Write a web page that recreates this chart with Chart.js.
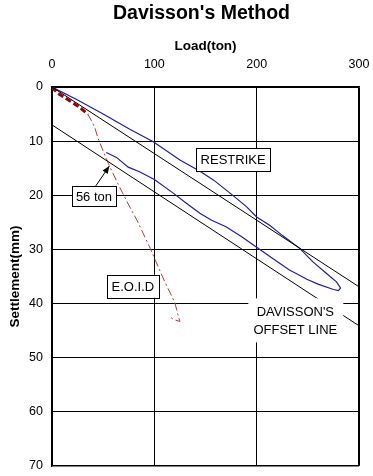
<!DOCTYPE html>
<html>
<head>
<meta charset="utf-8">
<script src="https://cdn.jsdelivr.net/npm/chart.js@4"></script>
<style>
  html, body { margin: 0; padding: 0; background: #fff; overflow: hidden; }
  #wrap { width: 373px; height: 476px; }
  canvas { display: block; }
</style>
</head>
<body>
<div id="wrap"><canvas id="chart"></canvas></div>
<script>
// load (ton) / settlement (mm)
const elasticLoad = [0, 300];
const elasticSettle = [0, 36.9];
const offsetLoad = [0, 300];
const offsetSettle = [7, 44.1];

const restrikeLoad = [0, 25, 50, 76, 99, 125, 145, 158, 174, 190, 200, 213, 225, 242, 255, 268, 278, 282,
  280, 275, 260, 249, 240, 232, 215, 200, 185, 170, 156, 144.5, 130, 118.5, 100, 86, 74.5, 63, 53];
const restrikeSettle = [0, 2.4, 5, 7.8, 10.1, 13.5, 15.6, 17.2, 19.6, 22.1, 24, 25.6, 27.4, 29.8, 32.3, 34.4, 36, 37.1,
  37.6, 37.4, 36.4, 35.5, 34.6, 33.8, 31.6, 29.6, 27.6, 25.8, 24.6, 23.3, 21.3, 19.6, 17.1, 15.7, 14.8, 13, 12.1];

const eoidStartLoad = [0, 6, 16, 26, 35];
const eoidStartSettle = [0, 1.2, 2.4, 3.6, 5];
const eoidLoad = [35, 39, 42, 45, 50, 55, 65, 75, 83, 89, 96, 101, 110, 120, 123, 125, 118, 115];
const eoidSettle = [5, 6.4, 7.6, 9.5, 11.8, 14.1, 18.1, 21.8, 24.6, 27, 29.8, 32, 35.9, 39.8, 42, 43.3, 42.9, 42.1];

const xTickValues = [0, 100, 200, 300];
const yTickValues = [0, 10, 20, 30, 40, 50, 60, 70];

function pairs(xs, ys) {
  return xs.map((v, i) => ({x: v, y: ys[i]}));
}

const FONT = "Arial, 'Liberation Sans', sans-serif";

function box(ctx, text, cx, cy, w, h) {
  ctx.fillStyle = '#fff';
  ctx.fillRect(cx - w / 2, cy - h / 2, w, h);
  ctx.strokeStyle = '#000';
  ctx.lineWidth = 1;
  ctx.strokeRect(Math.round(cx - w / 2) + 0.5, Math.round(cy - h / 2) + 0.5, w, h);
  ctx.fillStyle = '#000';
  ctx.fillText(text, cx, cy + 1);
}

const notes = {
  id: 'notes',
  afterDatasetsDraw(chart) {
    const ctx = chart.ctx;
    const x = chart.scales.x, y = chart.scales.y;
    ctx.save();

    // chart title, a bit left of the page centre as in the original
    ctx.font = 'bold 19.5px ' + FONT;
    ctx.textAlign = 'center';
    ctx.textBaseline = 'middle';
    ctx.fillStyle = '#000';
    ctx.fillText("Davisson's Method", 201.5, 14);

    ctx.font = '13px ' + FONT;
    box(ctx, 'RESTRIKE', x.getPixelForValue(177), y.getPixelForValue(13.4), 74, 23);
    box(ctx, 'E.O.I.D', x.getPixelForValue(79), y.getPixelForValue(36.8), 52, 23);

    // arrow to the 56 ton point
    const tx = x.getPixelForValue(56), ty = y.getPixelForValue(14.6);
    const sx = x.getPixelForValue(42), sy = y.getPixelForValue(18.5);
    ctx.strokeStyle = '#000';
    ctx.lineWidth = 1;
    ctx.beginPath();
    ctx.moveTo(sx, sy);
    ctx.lineTo(tx, ty);
    ctx.stroke();
    const a = Math.atan2(ty - sy, tx - sx);
    ctx.fillStyle = '#000';
    ctx.beginPath();
    ctx.moveTo(tx, ty);
    ctx.lineTo(tx - 8 * Math.cos(a - 0.4), ty - 8 * Math.sin(a - 0.4));
    ctx.lineTo(tx - 8 * Math.cos(a + 0.4), ty - 8 * Math.sin(a + 0.4));
    ctx.closePath();
    ctx.fill();
    box(ctx, '56 ton', x.getPixelForValue(41), y.getPixelForValue(20.2), 44, 20);

    // offset line caption, white behind it
    const cx = x.getPixelForValue(237.8), cy = y.getPixelForValue(43.1);
    ctx.fillStyle = '#fff';
    ctx.fillRect(cx - 47, cy - 22, 95, 44);
    ctx.fillStyle = '#000';
    ctx.fillText("DAVISSON'S", cx, cy - 8);
    ctx.fillText('OFFSET LINE', cx, cy + 10);
    ctx.restore();
  }
};

new Chart(document.getElementById('chart'), {
  type: 'scatter',
  data: {
    datasets: [
      {
        data: pairs(elasticLoad, elasticSettle),
        showLine: true, borderColor: '#000', borderWidth: 1, pointRadius: 0
      },
      {
        data: pairs(offsetLoad, offsetSettle),
        showLine: true, borderColor: '#000', borderWidth: 1, pointRadius: 0
      },
      {
        data: pairs(restrikeLoad, restrikeSettle),
        showLine: true, borderColor: '#1f1f9c', borderWidth: 1.2, pointRadius: 0
      },
      {
        data: pairs(eoidStartLoad, eoidStartSettle),
        showLine: true, borderColor: '#9a0000', borderWidth: 3, borderDash: [6, 3], pointRadius: 0
      },
      {
        data: pairs(eoidLoad, eoidSettle),
        showLine: true, borderColor: '#b03a3a', borderWidth: 1, borderDash: [8, 3, 2, 3], pointRadius: 0
      }
    ]
  },
  options: {
    responsive: true,
    maintainAspectRatio: false,
    animation: false,
    layout: { padding: { top: 35.4, left: 0, right: 14, bottom: 10 } },
    plugins: {
      legend: { display: false },
      tooltip: { enabled: false },
      title: { display: false }
    },
    scales: {
      x: {
        type: 'linear',
        position: 'top',
        min: 0, max: 300,
        afterBuildTicks: s => { s.ticks = xTickValues.map(v => ({value: v})); },
        afterFit: s => { s.height = 51.6; s.paddingLeft = 0; s.paddingRight = 0; },
        title: {
          display: true, text: 'Load(ton)', color: '#000',
          font: { family: FONT, size: 13.5, weight: 'bold' },
          padding: { top: 2.5, bottom: 0 }
        },
        ticks: { color: '#000', font: { family: FONT, size: 12.5 }, padding: 15, maxRotation: 0 },
        grid: {
          color: '#000',
          lineWidth: c => (c.tick && c.tick.value === 300 ? 2 : 1),
          drawTicks: false
        },
        border: { color: '#000', width: 1.5 }
      },
      y: {
        type: 'linear',
        reverse: true,
        min: 0, max: 70,
        afterBuildTicks: s => { s.ticks = yTickValues.map(v => ({value: v})); },
        afterFit: s => { s.width = 52; s.paddingTop = 0; s.paddingBottom = 0; },
        title: {
          display: true, text: 'Settlement(mm)', color: '#000',
          font: { family: FONT, size: 13.5, weight: 'bold' },
          padding: { top: 7, bottom: 0 }
        },
        ticks: { color: '#000', font: { family: FONT, size: 12.5 }, padding: 9 },
        grid: {
          color: '#000',
          lineWidth: c => (c.tick && c.tick.value === 70 ? 1.5 : 1),
          drawTicks: false
        },
        border: { color: '#000', width: 1.5 }
      }
    }
  },
  plugins: [notes]
});
</script>
</body>
</html>
